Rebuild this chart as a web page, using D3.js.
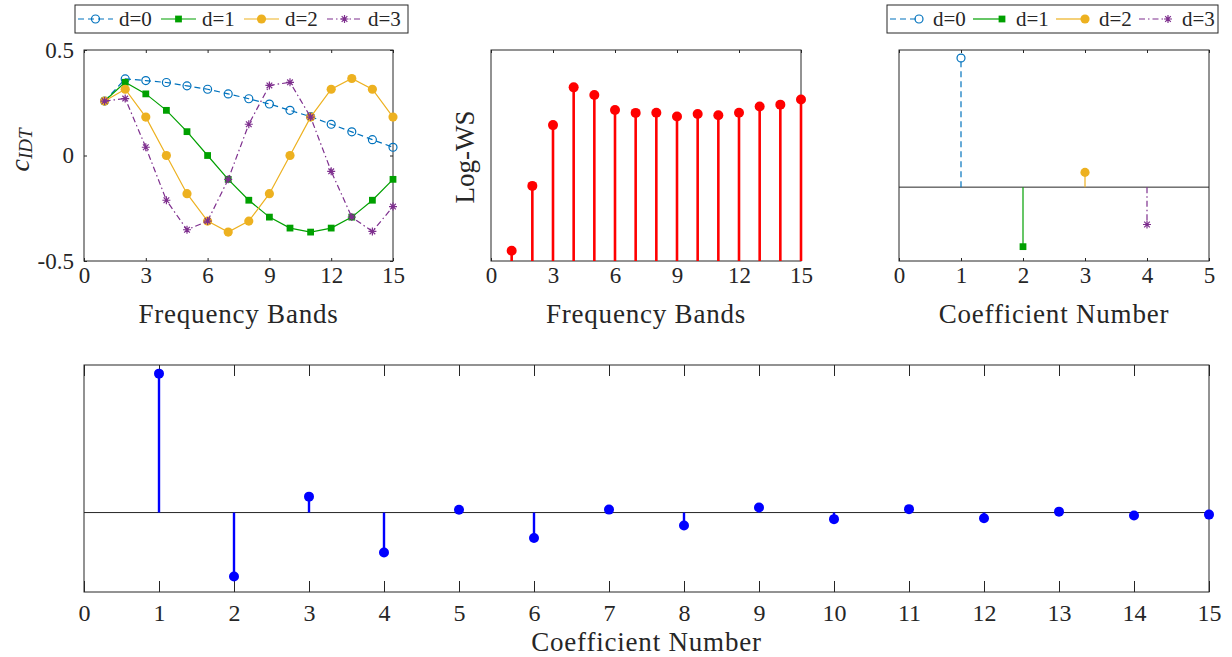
<!DOCTYPE html>
<html>
<head>
<meta charset="utf-8">
<script src="https://cdn.jsdelivr.net/npm/d3@7"></script>
<style>
  body { margin: 0; background: #fff; }
  svg text { font-family: "Liberation Serif", "Times New Roman", serif; fill: #262626; }
</style>
</head>
<body>
<svg id="chart" width="1232" height="657"></svg>
<script>
// values
const bands = [1, 2, 3, 4, 5, 6, 7, 8, 9, 10, 11, 12, 13, 14, 15];
const cIdt0 = [0.258, 0.363, 0.355, 0.346, 0.330, 0.314, 0.292, 0.269, 0.244, 0.214, 0.184, 0.148, 0.112, 0.075, 0.039];
const cIdt1 = [0.258, 0.347, 0.292, 0.214, 0.113, 0.000, -0.113, -0.212, -0.292, -0.344, -0.363, -0.344, -0.292, -0.212, -0.113];
const cIdt2 = [0.258, 0.314, 0.182, 0.000, -0.181, -0.311, -0.363, -0.311, -0.181, 0.000, 0.182, 0.314, 0.365, 0.314, 0.182];
const cIdt3 = [0.258, 0.270, 0.039, -0.212, -0.352, -0.311, -0.113, 0.148, 0.332, 0.347, 0.182, -0.075, -0.292, -0.360, -0.242];
const logWs = [0.049, 0.356, 0.644, 0.823, 0.787, 0.716, 0.702, 0.703, 0.685, 0.697, 0.691, 0.703, 0.732, 0.741, 0.765];
const firstCoefs = [1, 2, 3, 4];
const firstValues = [0.612, -0.282, 0.070, -0.177];
const coefNums = [1, 2, 3, 4, 5, 6, 7, 8, 9, 10, 11, 12, 13, 14, 15];
const coefValues = [0.612, -0.282, 0.070, -0.176, 0.012, -0.112, 0.013, -0.057, 0.022, -0.029, 0.015, -0.025, 0.004, -0.013, -0.009];
const seriesNames = ["d=0", "d=1", "d=2", "d=3"];
const bandTicks = [0, 3, 6, 9, 12, 15];
const cTicks = [-0.5, 0, 0.5];
const coefTicks5 = [0, 1, 2, 3, 4, 5];
const coefTicks15 = [0, 1, 2, 3, 4, 5, 6, 7, 8, 9, 10, 11, 12, 13, 14, 15];

const cSeries = [cIdt0, cIdt1, cIdt2, cIdt3];
const ink = "#262626";

const symStar = {
  draw(ctx, size) {
    const r = Math.sqrt(size) / 2, k = r * Math.SQRT1_2;
    ctx.moveTo(-r, 0); ctx.lineTo(r, 0);
    ctx.moveTo(0, -r); ctx.lineTo(0, r);
    ctx.moveTo(-k, -k); ctx.lineTo(k, k);
    ctx.moveTo(-k, k); ctx.lineTo(k, -k);
  }
};

// d=0 .. d=3 look
const looks = [
  { color: "#0072BD", dash: "6,4",         sym: d3.symbolCircle, size: 50, filled: false },
  { color: "#00A000", dash: null,          sym: d3.symbolSquare, size: 46, filled: true },
  { color: "#EDB120", dash: null,          sym: d3.symbolCircle, size: 66, filled: true },
  { color: "#7E2F8E", dash: "6,3,1.5,3",   sym: symStar,         size: 64, filled: false }
];

const svg = d3.select("#chart");

const xTL = d3.scaleLinear([0, 15], [84, 393]);
const yTL = d3.scaleLinear([-0.5, 0.5], [261, 50]);
const xTM = d3.scaleLinear([0, 15], [491, 801]);
const yTM = d3.scaleLinear([0, 1], [261, 50]);
const xTR = d3.scaleLinear([0, 5], [899, 1209]);
const yTR = d3.scaleLinear([-0.35, 0.65], [261, 50]);
const xB = d3.scaleLinear([0, 15], [84, 1209]);
const yB = d3.scaleLinear([-0.35, 0.65], [592, 365]);

function frame(x, y, xTicks, tickLen, pad, fontSize, yTicks) {
  const [l, r] = x.range(), [b, t] = y.range();
  const g = svg.append("g");
  g.append("g").attr("transform", `translate(0,${b})`)
    .call(d3.axisBottom(x).tickValues(xTicks).tickSize(-tickLen).tickSizeOuter(0)
      .tickPadding(pad).tickFormat(d => String(d)))
    .attr("font-size", fontSize);
  g.append("g").attr("transform", `translate(0,${t})`)
    .call(d3.axisTop(x).tickValues(xTicks).tickSize(-tickLen).tickSizeOuter(0).tickFormat(""));
  if (yTicks) {
    g.append("g").attr("transform", `translate(${l},0)`)
      .call(d3.axisLeft(y).tickValues(yTicks).tickSize(-tickLen).tickSizeOuter(0).tickPadding(10).tickFormat(d => String(d)))
      .attr("font-size", fontSize);
    g.append("g").attr("transform", `translate(${r},0)`)
      .call(d3.axisRight(y).tickValues(yTicks).tickSize(-tickLen).tickSizeOuter(0).tickFormat(""));
  }
  g.selectAll(".domain").remove();
  g.selectAll(".tick line").attr("stroke", ink);
  g.append("rect")
    .attr("x", l).attr("y", t).attr("width", r - l).attr("height", b - t)
    .attr("fill", "none").attr("stroke", ink);
  return g;
}

function xLabel(text, x, baseline) {
  const [l, r] = x.range();
  svg.append("text").attr("x", (l + r) / 2).attr("y", baseline)
    .attr("text-anchor", "middle").attr("font-size", 27).attr("letter-spacing", 0.8)
    .text(text);
}

function drawMarkers(g, pts, look) {
  g.selectAll(null).data(pts).join("path")
    .attr("transform", d => `translate(${d[0]},${d[1]})`)
    .attr("d", d3.symbol(look.sym, look.size))
    .attr("fill", look.filled ? look.color : "none")
    .attr("stroke", look.filled ? "none" : look.color)
    .attr("stroke-width", 1.2);
}

// ---------- top left: c_IDT ----------
frame(xTL, yTL, bandTicks, 3, 6, 23, cTicks);
cSeries.forEach((vals, i) => {
  const look = looks[i];
  const pts = vals.map((v, j) => [xTL(bands[j]), yTL(v)]);
  const g = svg.append("g");
  g.append("path").datum(pts)
    .attr("d", d3.line())
    .attr("fill", "none").attr("stroke", look.color).attr("stroke-width", 1.2)
    .attr("stroke-dasharray", look.dash);
  drawMarkers(g, pts, look);
});
const yl = svg.append("text").attr("transform", "translate(29,150) rotate(-90)")
  .attr("text-anchor", "middle").attr("font-style", "italic");
yl.append("tspan").attr("font-size", 28).text("c");
yl.append("tspan").attr("font-size", 19).attr("dy", 3).text("IDT");
xLabel("Frequency Bands", xTL, 323);

// ---------- top middle: Log-WS ----------
frame(xTM, yTM, bandTicks, 3, 6, 23, null);
const gm = svg.append("g");
gm.selectAll("line").data(logWs).join("line")
  .attr("x1", (d, i) => xTM(bands[i])).attr("x2", (d, i) => xTM(bands[i]))
  .attr("y1", yTM(0)).attr("y2", d => yTM(d))
  .attr("stroke", "#FF0000").attr("stroke-width", 2.6);
gm.selectAll("circle").data(logWs).join("circle")
  .attr("cx", (d, i) => xTM(bands[i])).attr("cy", d => yTM(d))
  .attr("r", 5).attr("fill", "#FF0000");
svg.append("text").attr("transform", "translate(474,157) rotate(-90)")
  .attr("text-anchor", "middle").attr("font-size", 27).text("Log-WS");
xLabel("Frequency Bands", xTM, 323);

// ---------- top right: first coefficients ----------
frame(xTR, yTR, coefTicks5, 3, 6, 23, null);
svg.append("line").attr("x1", xTR(0)).attr("x2", xTR(5))
  .attr("y1", yTR(0)).attr("y2", yTR(0)).attr("stroke", ink);
firstValues.forEach((v, i) => {
  const look = looks[i];
  const g = svg.append("g");
  g.append("line")
    .attr("x1", xTR(firstCoefs[i])).attr("x2", xTR(firstCoefs[i]))
    .attr("y1", yTR(0)).attr("y2", yTR(v))
    .attr("stroke", look.color).attr("stroke-width", 1.2).attr("stroke-dasharray", look.dash);
  drawMarkers(g, [[xTR(firstCoefs[i]), yTR(v)]], look);
});
xLabel("Coefficient Number", xTR, 323);

// ---------- bottom: all coefficients ----------
frame(xB, yB, coefTicks15, 11, 12, 24, null);
svg.append("line").attr("x1", xB(0)).attr("x2", xB(15))
  .attr("y1", yB(0)).attr("y2", yB(0)).attr("stroke", ink);
const gb = svg.append("g");
gb.selectAll("line").data(coefValues).join("line")
  .attr("x1", (d, i) => xB(coefNums[i])).attr("x2", (d, i) => xB(coefNums[i]))
  .attr("y1", yB(0)).attr("y2", d => yB(d))
  .attr("stroke", "#0000FF").attr("stroke-width", 2.4);
gb.selectAll("circle").data(coefValues).join("circle")
  .attr("cx", (d, i) => xB(coefNums[i])).attr("cy", d => yB(d))
  .attr("r", 5).attr("fill", "#0000FF");
xLabel("Coefficient Number", xB, 651);

// ---------- legends ----------
function legend(left, width, entryW, lineLen, markerAt, textAt) {
  const g = svg.append("g");
  g.append("rect").attr("x", left).attr("y", 5).attr("width", width).attr("height", 28)
    .attr("fill", "#fff").attr("stroke", ink);
  seriesNames.forEach((name, i) => {
    const look = looks[i], x0 = left + 3 + entryW * i;
    g.append("line").attr("x1", x0).attr("x2", x0 + lineLen).attr("y1", 19).attr("y2", 19)
      .attr("stroke", look.color).attr("stroke-width", 1.2).attr("stroke-dasharray", look.dash);
    drawMarkers(g.append("g"), [[x0 + markerAt, 19]], look);
    g.append("text").attr("x", x0 + textAt).attr("y", 26).attr("font-size", 21).text(name);
  });
}
legend(75, 333, 83, 35, 17.5, 41);
legend(887, 331, 83, 29, 29, 43);
</script>
</body>
</html>
